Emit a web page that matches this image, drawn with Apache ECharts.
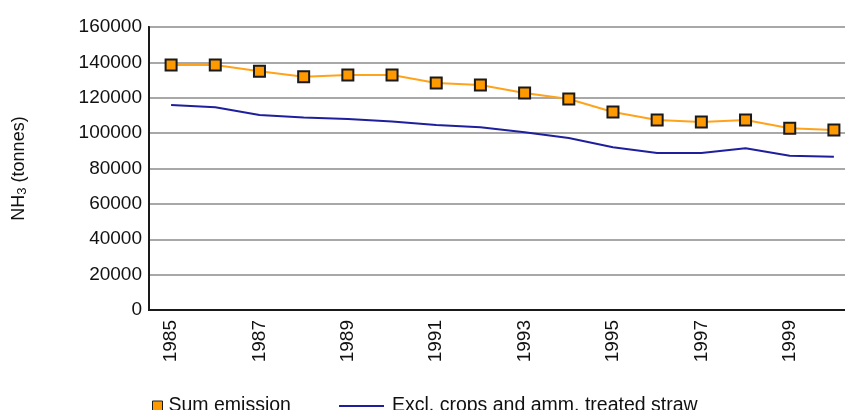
<!DOCTYPE html>
<html lang="en">
<head>
	<meta charset="UTF-8">
	<script src="https://cdn.jsdelivr.net/npm/echarts@6/dist/echarts.min.js"></script>
</head>
<body style="margin:0;background:#fff">
<div id="chart" style="width: 845px; height: 410px;"></div>
<script>
  var years=['1985','1986','1987','1988','1989','1990','1991','1992','1993','1994','1995','1996','1997','1998','1999','2000'];
  var sumEmission=[138500,138500,135000,131900,132900,132900,128300,127200,122700,119300,111900,107400,106300,107400,102700,101800];
  var exclCrops=[115900,114600,110200,108900,108000,106600,104600,103300,100500,97200,92000,88800,88800,91400,87200,86700];
  var yTicks=[0,20000,40000,60000,80000,100000,120000,140000,160000];

  var chart = echarts.init(document.getElementById('chart'));
  var font='Liberation Sans';
  option = {
    textStyle:{ fontFamily:font },
    animation:false,
    grid:{
      left:149,
      top:27,
      height:283,
      width:707,
      outerBoundsMode:'none',
      containLabel:false,
      show:true,
      borderColor:'#1a1a1a',
      borderWidth:2
    },
    legend:[
      {
        data:[{name:'Sum emission',icon:'rect'}],
        left:147,
        top:391,
        itemWidth:10,
        itemHeight:10,
        itemGap:0,
        itemStyle:{ borderColor:'#1a1a1a', borderWidth:1 },
        textStyle:{ fontFamily:font, fontSize:19.5, color:'#111', padding:[0,0,0,1] }
      },
      {
        data:[{name:'Excl. crops and amm. treated straw',icon:'rect'}],
        left:334,
        top:391,
        itemWidth:45,
        itemHeight:2,
        itemStyle:{ borderWidth:0 },
        textStyle:{ fontFamily:font, fontSize:19.5, color:'#111', padding:[0,0,0,3] }
      }
    ],
    xAxis:{
      type:'category',
      data:years,
      boundaryGap:true,
      axisLine:{ lineStyle:{ color:'#1a1a1a', width:2 } },
      axisTick:{ alignWithLabel:true, interval:1, length:6, lineStyle:{ color:'#1a1a1a', width:2 } },
      axisLabel:{ interval:1, rotate:90, margin:10, fontSize:19, color:'#111', fontFamily:font }
    },
    yAxis:{
      type:'value',
      min:yTicks[0],
      max:yTicks[yTicks.length-1],
      interval:20000,
      name:'{a|NH}{b|3}{a| (tonnes)}',
      nameLocation:'middle',
      nameGap:120,
      nameRotate:90,
      nameTextStyle:{
        rich:{
          a:{ fontSize:18, color:'#111', fontFamily:font },
          b:{ fontSize:13, color:'#111', fontFamily:font, padding:[6,0,0,0] }
        }
      },
      axisLine:{ show:true, lineStyle:{ color:'#1a1a1a', width:2 } },
      axisTick:{ show:false },
      splitLine:{ lineStyle:{ color:'#a8a8a8', width:2 } },
      axisLabel:{
        margin:7, fontSize:19, color:'#111', fontFamily:font,
        formatter:function(v){ return String(v); }
      }
    },
    series:[
      {
        name:'Sum emission',
        type:'line',
        data:sumEmission,
        symbol:'rect',
        symbolSize:11,
        lineStyle:{ color:'#FFA31A', width:2 },
        itemStyle:{ color:'#FF9900', borderColor:'#1a1a1a', borderWidth:2 },
        z:3
      },
      {
        name:'Excl. crops and amm. treated straw',
        type:'line',
        data:exclCrops,
        showSymbol:false,
        symbol:'none',
        lineStyle:{ color:'#1f1f9e', width:2 },
        itemStyle:{ color:'#1f1f9e' }
      }
    ]
  };
  chart.setOption(option);
</script>
</body>
</html>
